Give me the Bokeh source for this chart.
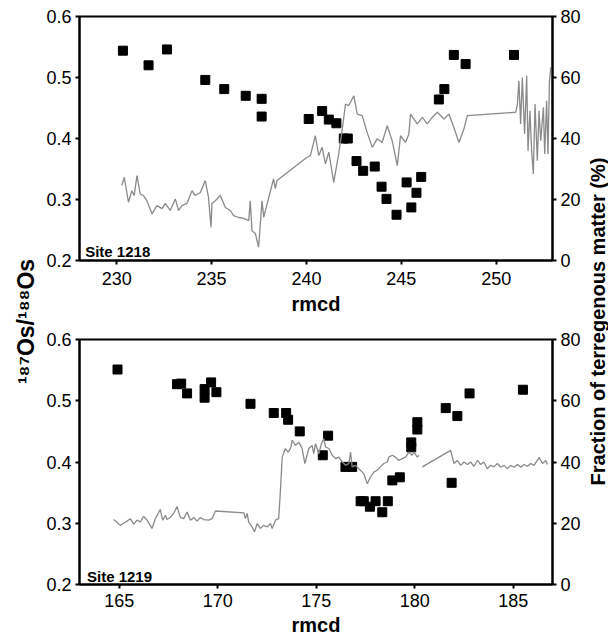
from bokeh.plotting import figure
from bokeh.models import Range1d, LinearAxis, FixedTicker, Label
from bokeh.layouts import row, column
from bokeh.embed import file_html
from bokeh.resources import INLINE

FONT = "Liberation Sans"
NAN = float("nan")

# ---------------- Site 1218 ----------------
s1218_os_depth = [230.33, 231.68, 232.65, 234.67, 235.67, 236.80, 237.64, 237.64, 240.12, 240.83,
                  241.18, 241.58, 241.97, 242.18, 242.64, 242.99, 243.60, 243.96, 244.22, 244.75,
                  245.28, 245.53, 245.80, 246.05, 246.98, 247.27, 247.77, 248.39, 250.94]
s1218_os_ratio = [0.544, 0.520, 0.546, 0.496, 0.481, 0.470, 0.465, 0.436, 0.432, 0.445,
                  0.431, 0.425, 0.400, 0.400, 0.363, 0.347, 0.354, 0.321, 0.301, 0.275,
                  0.328, 0.287, 0.311, 0.337, 0.464, 0.481, 0.537, 0.522, 0.537]

s1218_terr_depth = [230.27, 230.40, 230.62, 230.80, 230.92, 231.07, 231.24, 231.41, 231.59, 231.86,
                    232.12, 232.39, 232.56, 232.82, 233.09, 233.26, 233.44, 233.70, 233.97, 234.14,
                    234.41, 234.67, 234.84, 234.97, 235.02, 235.20, 235.46, 235.73, 235.99, 236.16,
                    236.43, 236.69, 236.96, 237.04, 237.13, 237.31, 237.48, 237.66, 237.75, 238.27,
                    238.36, 238.45, 240.00, 240.21, 240.47, 240.65, 240.83, 241.00, 241.18, 241.44,
                    241.70, 241.88, 242.06, 242.23, 242.50, 242.68, 242.94, 243.20, 243.47, 243.73,
                    243.99, 244.26, 244.52, 244.79, 244.96, 245.22, 245.40, 245.49, 245.84, 246.11,
                    246.37, 246.63, 246.90, 247.25, 247.51, 247.77, 248.04, 248.30, 248.48, 251.03,
                    251.12, 251.20, 251.29, 251.38, 251.50, 251.61, 251.68, 251.78, 251.87, 251.96,
                    252.05, 252.17, 252.26, 252.35, 252.49, 252.56, 252.66, 252.73, 252.81, 252.88,
                    252.97]
s1218_terr_pct = [24.6, 27.3, 19.1, 22.9, 21.3, 27.8, 21.8, 21.3, 19.6, 15.3,
                  18.0, 17.0, 18.7, 16.4, 20.2, 16.4, 18.0, 18.7, 22.9, 21.3,
                  22.3, 26.2, 20.7, 10.9, 18.7, 19.6, 21.3, 17.4, 16.4, 14.7,
                  14.1, 13.8, 13.1, 19.6, 9.8, 8.8, 4.4, 19.6, 14.2, 26.8,
                  23.6, 26.2, 33.7, 34.4, 40.9, 34.4, 37.1, 31.7, 35.5, 25.6,
                  34.9, 42.6, 51.3, 50.8, 54.0, 48.0, 47.5, 42.0, 37.1, 39.9,
                  38.7, 44.2, 39.3, 31.1, 40.9, 38.7, 41.5, 48.0, 44.8, 46.9,
                  44.8, 46.9, 48.6, 46.4, 48.0, 43.7, 38.7, 43.1, 47.5, 48.6,
                  51.3, 58.9, 44.8, 60.0, 41.5, 60.6, 36.0, 49.1, 36.0, 28.4,
                  51.3, 32.7, 49.1, 39.3, 50.2, 34.9, 52.4, 34.9, 58.9, 63.3,
                  60.0]

# ---------------- Site 1219 ----------------
s1219_os_depth = [164.91, 167.93, 168.14, 168.44, 169.33, 169.33, 169.66, 169.93, 171.66, 172.84,
                  173.47, 173.57, 174.16, 175.33, 175.60, 176.48, 176.82, 177.25, 177.41, 177.72,
                  178.01, 178.35, 178.63, 178.86, 179.24, 179.82, 179.82, 180.13, 180.13, 181.57,
                  181.87, 182.16, 182.78, 185.49]
s1219_os_ratio = [0.551, 0.527, 0.528, 0.512, 0.519, 0.505, 0.530, 0.514, 0.495, 0.480,
                  0.480, 0.469, 0.450, 0.411, 0.443, 0.392, 0.392, 0.336, 0.336, 0.327,
                  0.336, 0.318, 0.336, 0.370, 0.375, 0.432, 0.424, 0.465, 0.453, 0.488,
                  0.366, 0.475, 0.512, 0.518]

s1219_terr_depth = [164.71, 164.88, 165.05, 165.22, 165.39, 165.56, 165.73, 165.90, 166.07, 166.23,
                    166.41, 166.66, 166.83, 167.08, 167.20, 167.34, 167.42, 167.59, 167.76, 167.93,
                    168.10, 168.27, 168.44, 168.61, 168.78, 168.95, 169.12, 169.28, 169.54, 169.71,
                    169.88, 171.32, 171.40, 171.49, 171.57, 171.74, 171.86, 172.00, 172.16, 172.33,
                    172.51, 172.67, 172.76, 172.93, 173.09, 173.18, 173.27, 173.43, 173.57, 173.69,
                    173.78, 173.94, 174.11, 174.28, 174.42, 174.62, 174.79, 174.87, 174.96, 175.13,
                    175.26, 175.38, 175.47, 175.64, 175.81, 175.98, 176.14, 176.32, 176.49, 176.65,
                    176.74, 176.82, 176.99, 177.16, 177.41, 177.59, 177.75, 177.92, 178.09, 178.26,
                    178.43, 178.60, 178.68, 178.86, 179.02, 179.19, 179.36, 179.53, 179.70, 179.87,
                    179.95, 180.13, 180.21, 180.30, 180.38, 181.82, 181.99, 182.16, 182.33, 182.50,
                    182.67, 182.84, 183.00, 183.18, 183.34, 183.51, 183.68, 183.85, 184.02, 184.19,
                    184.36, 184.53, 184.70, 184.87, 185.04, 185.21, 185.38, 185.55, 185.72, 185.88,
                    186.05, 186.22, 186.31, 186.48, 186.65, 186.73]
s1219_terr_pct = [21.2, 20.3, 19.3, 20.0, 20.7, 21.5, 19.7, 21.0, 20.4, 22.3,
                  21.0, 18.3, 21.5, 24.5, 21.0, 22.6, 21.2, 21.9, 23.2, 25.5,
                  21.9, 21.5, 23.7, 21.0, 21.9, 20.7, 21.9, 21.2, 21.0, 21.5,
                  24.0, 23.4, 21.5, 23.2, 20.4, 18.8, 17.2, 19.9, 18.3, 19.3,
                  18.8, 19.9, 18.3, 21.0, 21.5, 30.8, 41.6, 44.4, 43.2, 44.4,
                  47.1, 45.4, 46.5, 44.4, 39.5, 44.4, 45.4, 42.7, 46.0, 42.7,
                  46.0, 47.6, 44.9, 44.4, 42.2, 41.1, 41.6, 40.0, 38.9, 39.5,
                  43.2, 38.4, 38.9, 37.8, 36.2, 32.9, 35.1, 36.7, 37.3, 38.4,
                  39.5, 40.0, 41.6, 42.2, 41.6, 40.5, 41.1, 41.6, 43.2, 42.2,
                  43.2, 41.6, 42.2, NAN, 38.4, 43.8, 39.5, 40.5, 38.9, 40.0,
                  39.2, 40.0, 38.6, 40.5, 39.2, 40.0, 37.8, 38.9, 38.4, 39.5,
                  38.3, 38.9, 37.9, 38.9, 38.3, 39.2, 38.3, 39.2, 38.6, 39.5,
                  38.9, 40.5, 41.5, 39.5, 40.5, 39.2]

ratio_ticks = [0.2, 0.3, 0.4, 0.5, 0.6]
pct_ticks = [0, 20, 40, 60, 80]
s1218_xticks = [230, 235, 240, 245, 250]
s1219_xticks = [165, 170, 175, 180, 185]

left_title = "¹⁸⁷Os/¹⁸⁸Os"
right_title = "Fraction of terregenous matter (%)"


def style_axis(ax, standoff=4):
    ax.axis_line_color = "black"
    ax.axis_line_width = 2
    ax.major_tick_line_color = "black"
    ax.major_tick_line_width = 2
    ax.major_tick_in = 0
    ax.major_tick_out = 4
    ax.minor_tick_line_color = None
    ax.major_label_text_font = FONT
    ax.major_label_text_font_size = "18px"
    ax.major_label_text_color = "black"
    ax.major_label_standoff = standoff


def panel(xr, xticks, height, top_b, bot_b, lab_standoff, axlab_standoff,
          os_x, os_y, t_x, t_y, site, site_x, site_y):
    p = figure(width=543, height=height, x_range=Range1d(*xr), y_range=Range1d(0.2, 0.6),
               output_backend="svg", toolbar_location=None, title=None,
               min_border_left=39, min_border_right=30,
               min_border_top=top_b, min_border_bottom=bot_b,
               background_fill_color="white", border_fill_color="white")
    p.xgrid.visible = False
    p.ygrid.visible = False
    p.outline_line_color = "black"
    p.outline_line_width = 2
    p.outline_line_alpha = 1
    p.xaxis.ticker = FixedTicker(ticks=xticks)
    p.yaxis.ticker = FixedTicker(ticks=ratio_ticks)
    p.extra_y_ranges = {"terr": Range1d(0, 80)}
    rax = LinearAxis(y_range_name="terr", ticker=FixedTicker(ticks=pct_ticks))
    p.add_layout(rax, "right")
    for ax in p.yaxis:
        style_axis(ax, 4)
    for ax in p.xaxis:
        style_axis(ax, lab_standoff)
        ax.axis_label = "rmcd"
        ax.axis_label_text_font = FONT
        ax.axis_label_text_font_size = "20px"
        ax.axis_label_text_font_style = "bold"
        ax.axis_label_text_color = "black"
        ax.axis_label_standoff = axlab_standoff

    p.scatter(os_x, os_y, marker="square", size=9, color="black")
    p.line(t_x, t_y, y_range_name="terr", line_color="#8a8a8a", line_width=1.3)
    p.add_layout(Label(x=site_x, y=site_y, text=site, text_font=FONT, text_font_size="15px",
                       text_font_style="bold", text_color="black", text_baseline="alphabetic"))
    return p


top = panel((228.04, 252.97), s1218_xticks, 320, 16, 60, 7, 5,
            s1218_os_depth, s1218_os_ratio, s1218_terr_depth, s1218_terr_pct,
            "Site 1218", 228.34, 0.2147)
bottom = panel((162.98, 186.99), s1219_xticks, 320, 19, 56, 5, 4,
               s1219_os_depth, s1219_os_ratio, s1219_terr_depth, s1219_terr_pct,
               "Site 1219", 163.36, 0.2124)


def label_fig(w, border_left, border_top, border_bottom, text, size, standoff):
    f = figure(width=w, height=640, x_range=Range1d(0, 1), y_range=Range1d(0, 1),
               x_axis_type=None, y_axis_type=None,
               output_backend="svg", toolbar_location=None, title=None,
               min_border=0, min_border_left=border_left, min_border_right=0,
               min_border_top=border_top, min_border_bottom=border_bottom,
               outline_line_color=None, background_fill_color="white",
               border_fill_color="white")
    ax = LinearAxis(ticker=FixedTicker(ticks=[0.5]), major_label_overrides={0.5: ""})
    ax.axis_line_color = None
    ax.major_tick_line_color = None
    ax.minor_tick_line_color = None
    ax.major_tick_out = 0
    ax.major_tick_in = 0
    ax.major_label_standoff = 0
    ax.major_label_text_font_size = "1px"
    ax.axis_label = text
    ax.axis_label_text_font = FONT
    ax.axis_label_text_font_size = size
    ax.axis_label_text_font_style = "bold"
    ax.axis_label_text_color = "black"
    ax.axis_label_standoff = standoff
    f.add_layout(ax, "left")
    return f


left = label_fig(40, 39, 0, 20, left_title, "23px", 1)
right = label_fig(25, 24, 22, 0, right_title, "20px", 0)

layout = row(left, column(top, bottom), right)

open("out.html", "w").write(file_html(layout, INLINE))
